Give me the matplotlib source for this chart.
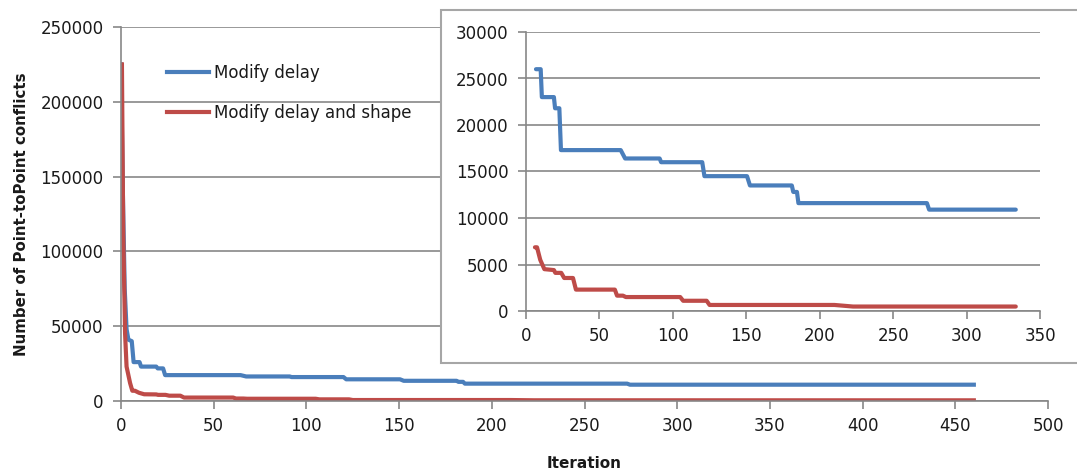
import matplotlib
matplotlib.use("Agg")
import matplotlib.pyplot as plt
from matplotlib.patches import Rectangle
import numpy as np

# ---- data ----
blue_label = "Modify delay"
red_label = "Modify delay and shape"

blue_iter = [0, 1, 2, 3, 4, 5.8, 6.8, 10, 10.8, 19, 19.8, 22.7, 23.8, 64.5, 67.5,
             91, 92, 120, 121.5, 150.5, 152.5, 181, 182, 184.5, 185.5, 273, 274.5, 460]
blue_val = [225000, 140000, 75000, 48000, 41000, 40000, 26000, 26000, 23000, 23000,
            21800, 21800, 17300, 17300, 16400, 16400, 16000, 16000, 14500, 14500,
            13500, 13500, 12800, 12800, 11600, 11600, 10900, 10900]

red_iter = [0.5, 1.2, 2.2, 3, 4.9, 6.1, 7.5, 9.7, 12.5, 19, 20, 24, 26, 32, 34,
            60.5, 62, 66, 68, 105, 107, 123, 125, 210, 222.7, 460]
red_val = [225000, 112000, 45000, 23000, 12000, 6850, 6850, 5500, 4500, 4400, 4100,
           4100, 3550, 3550, 2300, 2300, 1650, 1650, 1500, 1500, 1100, 1100, 650, 650,
           480, 450]

inset_start_blue = 6.8
inset_start_red = 6.1
inset_end = 333.5

main_xticks = list(range(0, 501, 50))
main_yticks = list(range(0, 250001, 50000))
inset_xticks = list(range(0, 351, 50))
inset_yticks = list(range(0, 30001, 5000))

x_label = "Iteration"
y_label = "Number of Point-toPoint conflicts"

# ---- styling ----
BLUE = "#4A7EBB"
RED = "#BE4B48"
GRID = "#878787"
TXT = "#1a1a1a"
W, H = 1077, 473

plt.rcParams['font.family'] = ['DejaVu Sans']

fig = plt.figure(figsize=(W / 100, H / 100), dpi=100)
fig.patch.set_facecolor("white")


def px_axes(l, t, r, b):
    return [l / W, 1 - b / H, (r - l) / W, (b - t) / H]


def style_axes(a, xticks, yticks, xlim, ylim):
    a.set_xlim(*xlim)
    a.set_ylim(*ylim)
    a.set_xticks(xticks)
    a.set_yticks(yticks)
    for s in ("top", "right"):
        a.spines[s].set_visible(False)
    for s in ("left", "bottom"):
        a.spines[s].set_color(GRID)
        a.spines[s].set_linewidth(1.2)
    a.tick_params(axis="both", direction="out", length=5.5, width=1.2, color=GRID,
                  labelsize=12, labelcolor=TXT)
    a.tick_params(axis="y", pad=7)
    a.tick_params(axis="x", pad=6)
    a.yaxis.grid(True, color=GRID, linewidth=1.2)
    a.set_axisbelow(True)
    a.patch.set_alpha(0)


# main axes
ax = fig.add_axes(px_axes(121, 27, 1048, 401))
style_axes(ax, main_xticks, main_yticks, (0, 500), (0, 250000))
ax.plot(blue_iter, blue_val, color=BLUE, lw=3, solid_joinstyle="round", label=blue_label)
ax.plot(red_iter, red_val, color=RED, lw=3, solid_joinstyle="round", label=red_label)
ax.set_xlabel(x_label, fontsize=11, fontweight="bold", color=TXT, labelpad=15)
ax.set_ylabel(y_label, fontsize=10.8, fontweight="bold", color=TXT, labelpad=8)

leg = ax.legend(loc="upper left", bbox_to_anchor=(167 / W, 1 - 64 / H),
                bbox_transform=fig.transFigure, frameon=False, fontsize=12,
                handlelength=2.5, handletextpad=0.35, labelspacing=1.32,
                borderpad=0, borderaxespad=0)
for t in leg.get_texts():
    t.set_color(TXT)

# inset frame (white box with grey border)
frame = Rectangle((441 / W, 1 - 363 / H), (W + 20 - 441) / W, (363 - 10) / H,
                  transform=fig.transFigure, facecolor="white", edgecolor="#A6A6A6",
                  linewidth=1.5, zorder=1)
fig.add_artist(frame)

# inset axes
ins = fig.add_axes(px_axes(526, 32, 1040, 311))
ins.set_zorder(2)
style_axes(ins, inset_xticks, inset_yticks, (0, 350), (0, 30000))
bi = np.array(blue_iter)
bv = np.array(blue_val)
ri = np.array(red_iter)
rv = np.array(red_val)
mb = (bi >= inset_start_blue) & (bi <= inset_end)
mr = (ri >= inset_start_red) & (ri <= inset_end)
ins.plot(bi[mb].tolist() + [inset_end], bv[mb].tolist() + [bv[mb][-1]],
         color=BLUE, lw=3, solid_capstyle="round", solid_joinstyle="round")
ins.plot(ri[mr].tolist() + [inset_end], rv[mr].tolist() + [rv[mr][-1]],
         color=RED, lw=3, solid_capstyle="round", solid_joinstyle="round")

fig.savefig("out.png", dpi=100)
